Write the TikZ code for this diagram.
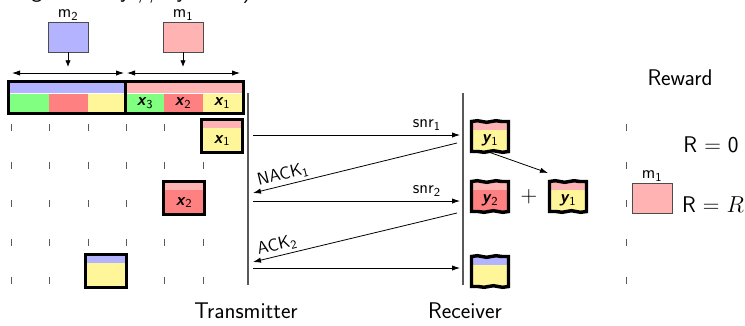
\documentclass[tikz,border=0pt]{standalone}
\usetikzlibrary{arrows.meta,decorations.pathmorphing}

\definecolor{pinkc}{RGB}{255,179,179}
\definecolor{bluec}{RGB}{179,179,255}
\definecolor{greenc}{RGB}{128,255,128}
\definecolor{redc}{RGB}{255,128,128}
\definecolor{yelc}{RGB}{255,245,153}

% packet held by the transmitter: name, x, y (top left), top colour, bottom colour, text
\newcommand\txbox[6]{%
  \fill[#5] (#2,#3) rectangle ++(41,33);
  \fill[#4] (#2,#3) rectangle ++(41,8);
  \draw[pkt] (#2,#3) rectangle ++(41,33);
  \node[var,inner sep=0pt] (#1) at ([shift={(20.5,21)}]#2,#3) {#6};}
% packet seen by the receiver (torn edges)
\newcommand\rxbox[6]{%
  \fill[#5] (#2,#3) rectangle ++(37,30);
  \fill[#4] (#2,#3) rectangle ++(37,8.5);
  \draw[pkt] (#2,#3) decorate[torn]{-- ++(37,0)} -- ++(0,30) decorate[torn]{-- ++(-37,0)} -- cycle;
  \node[var,inner sep=0pt] (#1) at ([shift={(18.5,19)}]#2,#3) {#6};
  \coordinate (#1-bot) at ([shift={(18.5,31)}]#2,#3);}

\begin{document}
\begin{tikzpicture}[x=0.75pt,y=-0.75pt,font=\sffamily\fontsize{17}{19}\selectfont,
    pkt/.style={line width=2.6pt},
    torn/.style={decoration={snake,segment length=14pt,amplitude=0.6pt}},
    tick/.style={gray!70!black,line width=0.7pt},
    wire/.style={gray!70!black,line width=1pt},
    msg/.style={-{Latex[length=6pt,width=4pt]},line width=0.6pt},
    mbox/.style={draw=gray!60!black,line width=0.6pt,minimum width=30pt,minimum height=22.5pt,inner sep=0pt},
    small/.style={font=\sffamily\fontsize{13}{14}\selectfont},
    var/.style={font=\sffamily\fontsize{13}{15}\selectfont}]
\useasboundingbox (0,0) rectangle (745,325);

\node[anchor=base east,font=\sffamily\fontsize{18}{20}\selectfont] (caption) at (256,-3) {organized by // symbols)};

% messages to be sent
\node[mbox,fill=bluec,label={[small,inner sep=0.5pt]above:m\textsubscript{2}}] (m2) at (68,37) {};
\node[mbox,fill=pinkc,label={[small,inner sep=0.5pt]above:m\textsubscript{1}}] (m1) at (183,37) {};
\coordinate (m2in) at (68,67);
\coordinate (m1in) at (183,67);
\draw[-{Latex[length=5pt,width=4pt]},line width=0.6pt] (m2) -- (m2in);
\draw[-{Latex[length=5pt,width=4pt]},line width=0.6pt] (m1) -- (m1in);
\draw[{Latex[length=6pt,width=4pt]}-{Latex[length=6pt,width=4pt]},line width=0.6pt] (12,73) -- (124,73);
\draw[{Latex[length=6pt,width=4pt]}-{Latex[length=6pt,width=4pt]},line width=0.6pt] (127,73) -- (240,73);

% coded stream
\fill[bluec] (10,83) rectangle (124,93);
\fill[pinkc] (127,83) rectangle (242,93);
\foreach \xa/\xb/\c in {10/48.5/greenc,49/87.5/redc,88/124/yelc,127/163.5/greenc,164/202.5/redc,203/242/yelc}
  \fill[\c] (\xa,94) rectangle (\xb,112);
\draw[pkt] (8.5,81.5) rectangle (243.5,113.5);
\draw[pkt] (125.5,81.5) -- (125.5,113.5);
\node[var] (s3) at (145,103) {\textbf{\textit{x}}\textsubscript{3}};
\node[var] (s2) at (183,103) {\textbf{\textit{x}}\textsubscript{2}};
\node[var] (s1) at (222,103) {\textbf{\textit{x}}\textsubscript{1}};

% time slots
\foreach \y/\cols in {127/{11,49,88,126,164},165/{11,49,88,126,164,203},203/{11,49,88,126},242/{11,49,88,126,164,203},280/{11,49,164,203}}
  \foreach \x in \cols
    \draw[tick] (\x,\y-3.5) -- (\x,\y+3.5);
\foreach \y in {127,165,203,242,280}
  \draw[tick] (626,\y-3.5) -- (626,\y+3.5);

% transmitter side
\txbox{tx1}{201.5}{119.5}{pinkc}{yelc}{\textbf{\textit{x}}\textsubscript{1}}
\txbox{tx2}{163.5}{181.5}{pinkc}{redc}{\textbf{\textit{x}}\textsubscript{2}}
\txbox{tx3}{85.5}{254.5}{bluec}{yelc}{}

% the two ends
\coordinate (TxTop) at (248,93);
\coordinate (TxBottom) at (248,285);
\coordinate (RxTop) at (463,93);
\coordinate (RxBottom) at (463,285);
\draw[wire] (TxTop) -- (TxBottom);
\draw[wire] (RxTop) -- (RxBottom);

\coordinate (TxA) at (253,135);  \coordinate (RxA) at (460,135);
\coordinate (RxB) at (457,143);  \coordinate (TxB) at (253,193);
\coordinate (TxC) at (253,201);  \coordinate (RxC) at (460,201);
\coordinate (RxD) at (457,213);  \coordinate (TxD) at (253,262);
\coordinate (TxE) at (253,268);  \coordinate (RxE) at (460,268);
\draw[msg] (TxA) -- node[above,pos=0.84,var] {snr\textsubscript{1}} (RxA);
\draw[msg] (RxB) -- node[above,sloped,pos=0.84,var,inner sep=2pt] {NACK\textsubscript{1}} (TxB);
\draw[msg] (TxC) -- node[above,pos=0.84,var] {snr\textsubscript{2}} (RxC);
\draw[msg] (RxD) -- node[above,sloped,pos=0.87,var,inner sep=2pt] {ACK\textsubscript{2}} (TxD);
\draw[msg] (TxE) -- (RxE);

% receiver side
\rxbox{rx1}{471.5}{121.5}{pinkc}{yelc}{\textbf{\textit{y}}\textsubscript{1}}
\rxbox{rx2}{471.5}{181.5}{pinkc}{redc}{\textbf{\textit{y}}\textsubscript{2}}
\rxbox{rx3}{549.5}{181.5}{pinkc}{yelc}{\textbf{\textit{y}}\textsubscript{1}}
\rxbox{rx4}{471.5}{256.5}{bluec}{yelc}{}
\node (plus) at (529,197) {$+$};
\coordinate (combine) at (548,173);
\draw[msg] (rx1-bot) -- (combine);

% reward
\node (reward) at (680,78) {Reward};
\node (r0) at (711,145) {R $=$ 0};
\node[mbox,fill=pinkc,label={[small,inner sep=0.5pt]above:m\textsubscript{1}}] (m1r) at (652,198) {};
\node (rR) at (713,205) {R $=$ $R$};

\node (tx) at (246,311) {Transmitter};
\node (rx) at (465,311) {Receiver};
\end{tikzpicture}
\end{document}
